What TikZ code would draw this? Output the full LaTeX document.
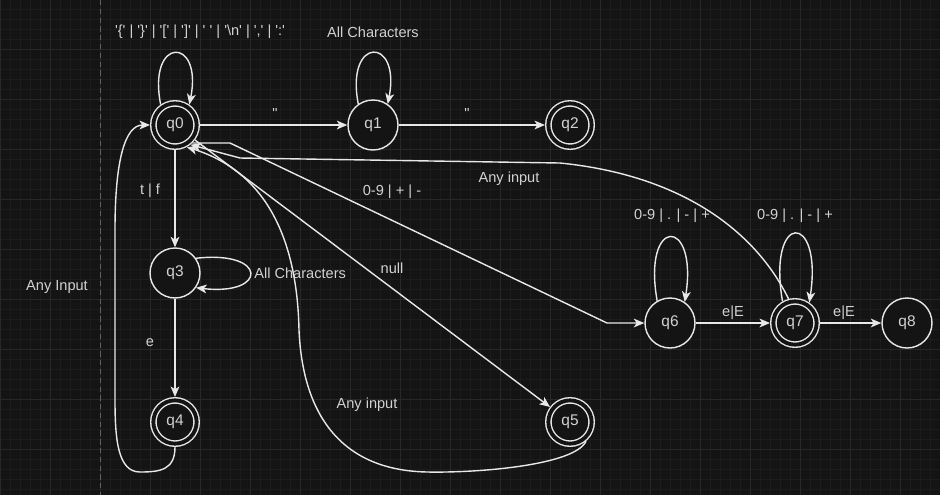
\documentclass[tikz,border=0pt]{standalone}
\usepackage{fontspec}
\setmainfont{Liberation Sans}
\usetikzlibrary{arrows.meta}
\definecolor{bgdark}{HTML}{141414}
\definecolor{gridminor}{HTML}{1C1C1C}
\definecolor{gridmajor}{HTML}{282828}
\definecolor{wire}{HTML}{E8E8E8}
\definecolor{txt}{HTML}{D2D2D2}
\def\sq#1{\textquotesingle#1\textquotesingle}
\tikzset{
	state/.style={circle, draw=wire, fill=bgdark, line width=0.8pt, minimum size=1cm, inner sep=0pt, text=txt, font=\fontsize{8.8}{10}\selectfont},
	accepting/.style={state, double=bgdark, double distance=2.2pt, minimum size=0.866cm, outer sep=1.9pt},
	edge/.style={draw=wire, line width=0.8pt, -{Stealth[length=6pt,width=5pt,inset=1.6pt]}},
	lbl/.style={text=txt, font=\fontsize{8.3}{10}\selectfont, inner sep=0pt},
}

\begin{document}
\begin{tikzpicture}[x=0.02cm, y=-0.02cm]
			%%%%% START %%%%%
			\useasboundingbox (0,0) rectangle (940,495);
			\fill[bgdark] (0,0) rectangle (940,495);
			
			% grid
			\foreach \gx in {0,10,...,940} \draw[gridminor, line width=0.4pt] (\gx,0) -- (\gx,495);
			\foreach \gy in {9,19,...,495} \draw[gridminor, line width=0.4pt] (0,\gy) -- (940,\gy);
			\foreach \gx in {0,50,...,940} \draw[gridmajor, line width=0.4pt] (\gx,0) -- (\gx,495);
			\foreach \gy in {49,99,...,495} \draw[gridmajor, line width=0.4pt] (0,\gy) -- (940,\gy);
			\draw[black!62, line width=0.5pt, dash pattern=on 3pt off 2pt] (100,0) -- (100,495);
			
			% states
			\node[accepting] (q0) at (175,125) {q0};
			\node[state] (q1) at (373,125) {q1};
			\node[accepting] (q2) at (570,125) {q2};
			\node[state] (q3) at (175,273) {q3};
			\node[accepting] (q4) at (175,422) {q4};
			\node[accepting] (q5) at (570,422) {q5};
			\node[state] (q6) at (670,323) {q6};
			\node[accepting] (q7) at (795,323) {q7};
			\node[state] (q8) at (907,323) {q8};
			
			% straight transitions
			\draw[edge] (q0) -- (q1);
			\draw[edge] (q1) -- (q2);
			\draw[edge] (q0) -- (q3);
			\draw[edge] (q3) -- (q4);
			\draw[edge] (q0) -- (q5);
			\draw[edge] (q6) -- (q7);
			\draw[edge] (q7) -- (q8);
			\draw[edge] (q0.-46) -- (230,143) -- (607,323) -- (q6);
			
			% loops
			\draw[edge] (q0.125) .. controls (147,36) and (203,36) .. (q0.55);
			\draw[edge] (q1.125) .. controls (345,36) and (401,36) .. (q1.55);
			\draw[edge] (q3.35) .. controls (268,250) and (268,296) .. (q3.-35);
			\draw[edge] (q6.120) .. controls (642,216) and (698,216) .. (q6.55);
			\draw[edge] (q7.120) .. controls (767,211) and (823,211) .. (q7.55);
			
			% back to q0
			\draw[edge] (q4.south) .. controls (175,470) and (160,472) .. (140,472) .. controls (118,472) and (115,440) .. (115,400) -- (115,230) .. controls (115,160) and (125,125) .. (q0.west);
			\draw[edge] (q5.-50) .. controls (575,465) and (480,473) .. (427,472) .. controls (330,470) and (302,400) .. (299,330) .. controls (297,230) and (260,170) .. (q0.-62);
			\draw[edge] (q7.105) .. controls (755,230) and (680,175) .. (560,163) -- (240,158) -- (q0.-52);
			
			% labels
			\node[lbl] (lloop0) at (200,32) {\sq{\{} | \sq{\}} | \sq{[} | \sq{]} | \sq{\ } | \sq{\textbackslash n} | \sq{,} | \sq{:}};
			\node[lbl] (lloop1) at (373,32) {All Characters};
			\node[lbl] (lq01) at (275,113) {\textquotedbl};
			\node[lbl] (lq12) at (467,113) {\textquotedbl};
			\node[lbl] (lq03) at (150,191) {t | f};
			\node[lbl, anchor=west] (lloop3) at (254,273) {All Characters};
			\node[lbl] (lq34) at (150,343) {e};
			\node[lbl] (lq40) at (57,287) {Any Input};
			\node[lbl] (lq05) at (392,268) {null};
			\node[lbl] (lq06) at (392,192) {0-9 | + | -};
			\node[lbl] (lq70) at (509,179) {Any input};
			\node[lbl] (lq50) at (367,405) {Any input};
			\node[lbl] (lloop6) at (672,216) {0-9 | . | - | +};
			\node[lbl] (lloop7) at (795,216) {0-9 | . | - | +};
			\node[lbl] (lq67) at (733,313) {e|E};
			\node[lbl] (lq78) at (844,313) {e|E};
			
			%%%%% END %%%%%
\end{tikzpicture}
\end{document}
